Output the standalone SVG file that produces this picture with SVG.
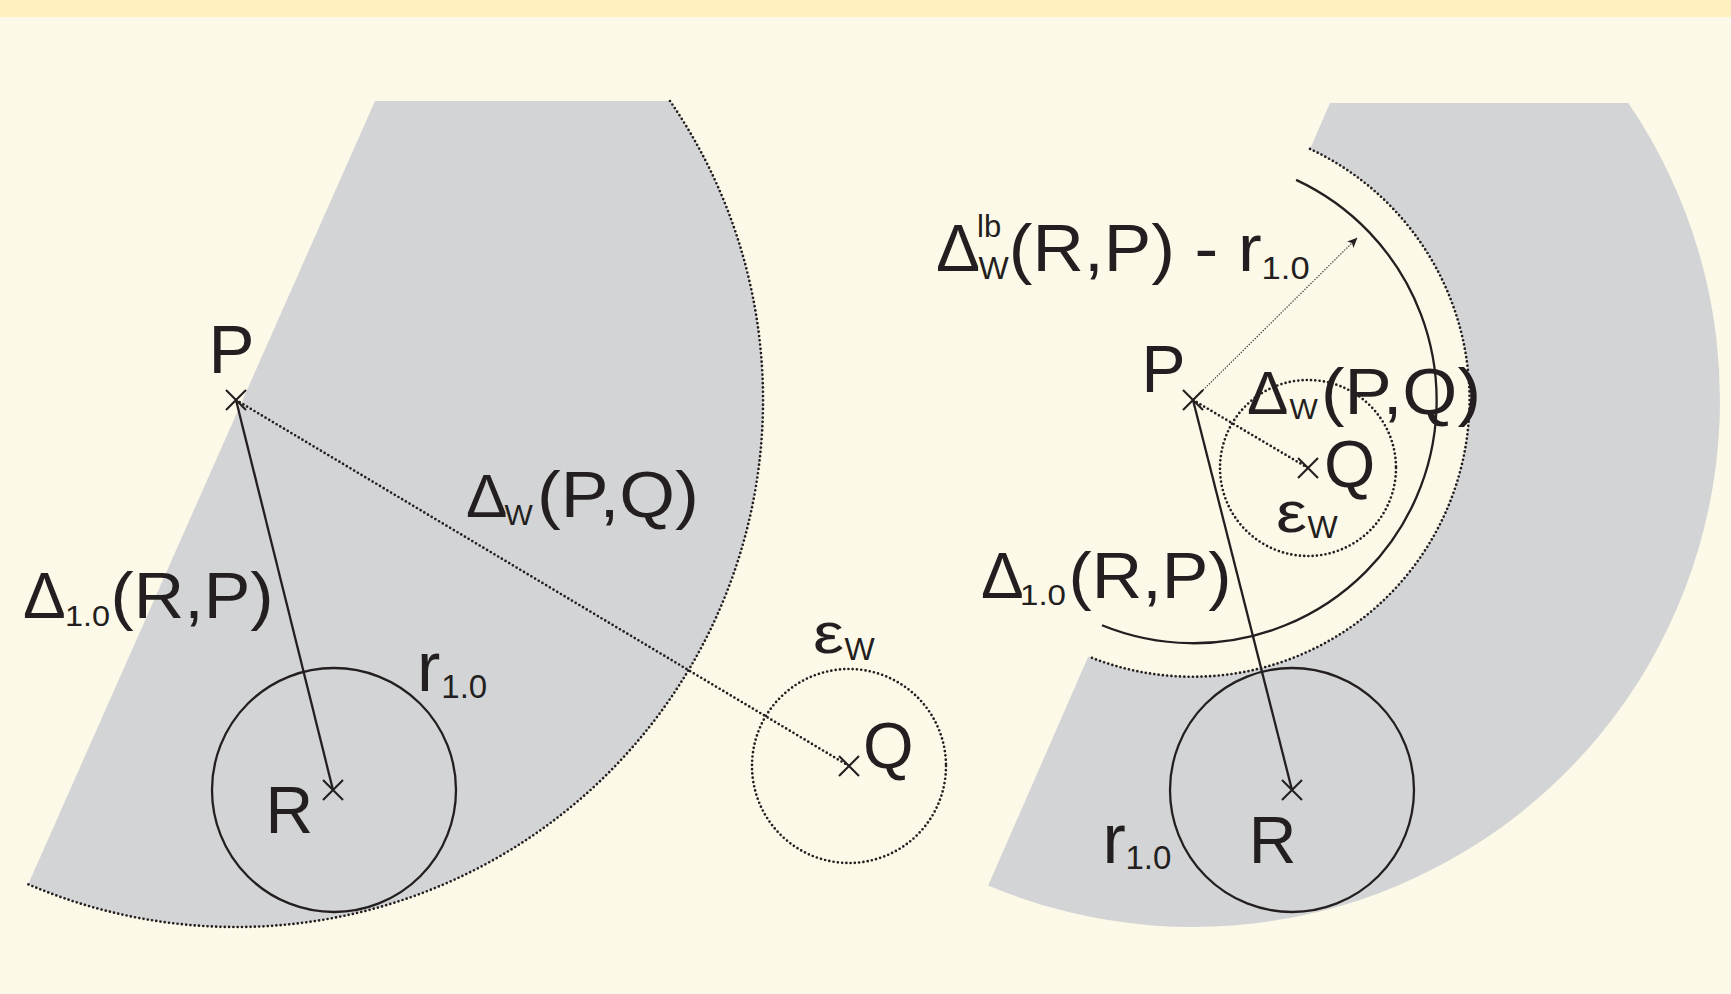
<svg xmlns="http://www.w3.org/2000/svg" width="1731" height="994" viewBox="0 0 1731 994">
<defs>
<style>
.bg{fill:#FDF9E8}
.band{fill:#FFF0BE}
.grey{fill:#D3D4D6;stroke:none}
.solid{fill:none;stroke:#231F20;stroke-width:2.3}
.dot{fill:none;stroke:#231F20;stroke-width:2.7;stroke-linecap:round;stroke-dasharray:0 4.3}
.fine{fill:none;stroke:#231F20;stroke-width:1.1;stroke-dasharray:1.3 1.5}
.cross{fill:none;stroke:#231F20;stroke-width:2.1}
text{font-family:"Liberation Sans",Arial,sans-serif;fill:#231F20}
</style>
<marker id="ah" viewBox="0 0 10 9" refX="9.5" refY="4.5" markerWidth="10" markerHeight="9" markerUnits="userSpaceOnUse" orient="auto">
<path d="M0,0 L10,4.5 L0,9 L2.5,4.5 Z" fill="#231F20"/>
</marker>
</defs>
<rect class="bg" x="0" y="0" width="1731" height="994"/>
<rect class="band" x="0" y="0" width="1731" height="17"/>

<g id="left-region">
<path class="grey" d="M375 101 L670 101 A527 527 0 0 1 28.2 884.3 Z"/>
<path class="dot" d="M670 101 A527 527 0 0 1 28.2 884.3"/>
</g>
<g id="right-region">
<path class="grey" d="M1330 103 L1628.3 103 A527 527 0 0 1 988.2 885.6 L1088.3 656.4 A277 277 0 0 0 1310 148.9 Z"/>
<path class="dot" d="M1310 148.9 A277 277 0 0 1 1088.3 656.4"/>
<path class="solid" d="M1296.1 179.9 A243 243 0 0 1 1102 625.3"/>
</g>

<g id="connectors">
<line class="solid" x1="236" y1="400" x2="333" y2="790"/>
<line class="dot" x1="236" y1="400" x2="849" y2="766"/>
<line class="solid" x1="1193" y1="400" x2="1292" y2="790"/>
<line class="dot" x1="1193" y1="400" x2="1308" y2="468"/>
<line class="fine" x1="1193" y1="400" x2="1357" y2="238" marker-end="url(#ah)"/>
</g>

<g id="left-R">
<circle class="solid" cx="334" cy="790" r="122"/>
<path class="cross" d="M323 780 L343 800 M323 800 L343 780"/>
<text x="265.6" y="833" font-size="66">R</text>
</g>
<g id="left-P">
<path class="cross" d="M226 390 L246 410 M226 410 L246 390"/>
<text x="208.5" y="373" font-size="69">P</text>
</g>
<g id="left-Q">
<circle class="dot" cx="849" cy="766" r="97"/>
<path class="cross" d="M839 756 L859 776 M839 776 L859 756"/>
<text x="863" y="768" font-size="65">Q</text>
</g>
<g id="left-labels">
<text y="517"><tspan x="466" font-size="62">Δ</tspan><tspan x="504.5" y="525" font-size="30">W</tspan><tspan x="537" y="517" font-size="65" textLength="162" lengthAdjust="spacingAndGlyphs">(P,Q)</tspan></text>
<text y="618"><tspan x="23" font-size="64">Δ</tspan><tspan x="65" y="626" font-size="30" textLength="45" lengthAdjust="spacingAndGlyphs">1.0</tspan><tspan x="110.6" y="618" font-size="64" textLength="163" lengthAdjust="spacingAndGlyphs">(R,P)</tspan></text>
<text y="690.7"><tspan x="417" font-size="70">r</tspan><tspan x="441.3" y="698" font-size="33">1.0</tspan></text>
<text y="653"><tspan x="813" font-size="58" textLength="31" lengthAdjust="spacingAndGlyphs">ε</tspan><tspan x="844.6" y="660" font-size="32">W</tspan></text>
</g>

<g id="right-R">
<circle class="solid" cx="1292" cy="790" r="122"/>
<path class="cross" d="M1282 780 L1302 800 M1282 800 L1302 780"/>
<text x="1248.7" y="863" font-size="66">R</text>
</g>
<g id="right-P">
<path class="cross" d="M1183 390 L1203 410 M1183 410 L1203 390"/>
<text x="1141.5" y="392" font-size="66">P</text>
</g>
<g id="right-Q">
<circle class="dot" cx="1308" cy="468" r="88"/>
<path class="cross" d="M1298 458 L1318 478 M1298 478 L1318 458"/>
<text x="1324" y="487" font-size="66">Q</text>
</g>
<g id="right-labels">
<text y="414"><tspan x="1247" font-size="62">Δ</tspan><tspan x="1289.5" y="419" font-size="30">W</tspan><tspan x="1321" y="414" font-size="65" textLength="160" lengthAdjust="spacingAndGlyphs">(P,Q)</tspan></text>
<text y="597.5"><tspan x="981" font-size="64">Δ</tspan><tspan x="1020" y="605" font-size="30" textLength="46" lengthAdjust="spacingAndGlyphs">1.0</tspan><tspan x="1068.6" y="597.5" font-size="64" textLength="163" lengthAdjust="spacingAndGlyphs">(R,P)</tspan></text>
<text y="863"><tspan x="1102.4" font-size="70">r</tspan><tspan x="1125.4" y="869" font-size="33">1.0</tspan></text>
<text y="532"><tspan x="1276" font-size="58" textLength="31" lengthAdjust="spacingAndGlyphs">ε</tspan><tspan x="1307.6" y="538" font-size="32">W</tspan></text>
<text y="271"><tspan x="936" font-size="66">Δ</tspan><tspan x="977" y="237" font-size="31">lb</tspan><tspan x="978.6" y="279" font-size="32">W</tspan><tspan x="1008.8" y="271" font-size="66" textLength="253" lengthAdjust="spacingAndGlyphs">(R,P) - r</tspan><tspan x="1261.6" y="279" font-size="31" textLength="48" lengthAdjust="spacingAndGlyphs">1.0</tspan></text>
</g>
</svg>
